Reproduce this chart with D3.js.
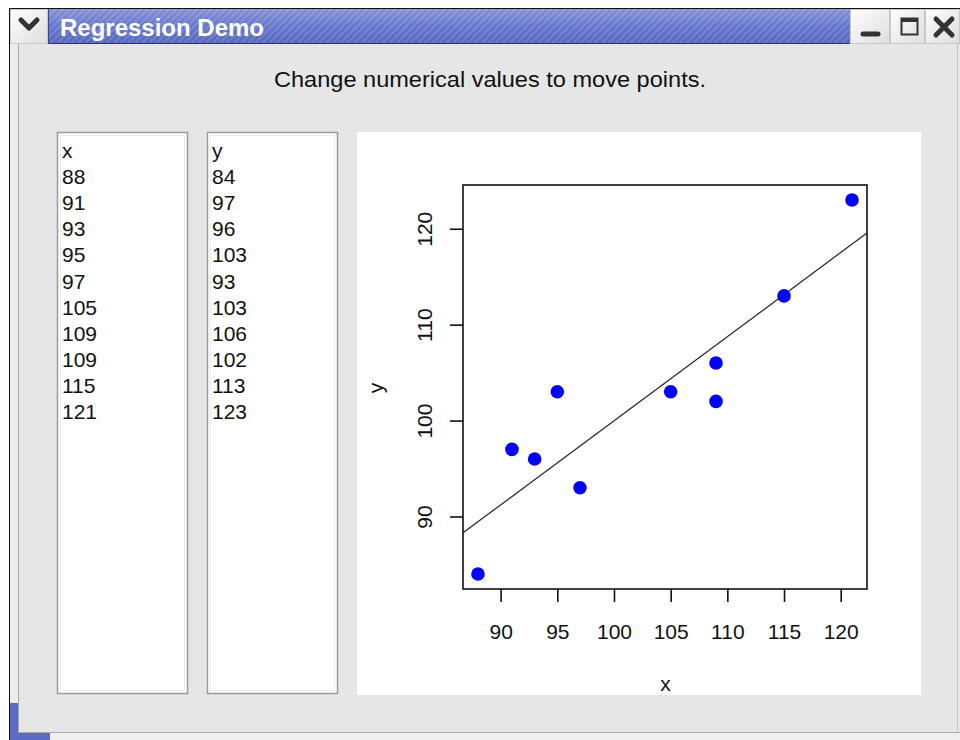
<!DOCTYPE html>
<html>
<head>
<meta charset="utf-8">
<script src="https://cdn.jsdelivr.net/npm/d3@7/dist/d3.min.js"></script>
<style>
  html, body { margin: 0; padding: 0; background: #ffffff; }
  svg { display: block; }
  text { font-family: "Liberation Sans", Arial, sans-serif; }
</style>
</head>
<body>
<svg id="chart" width="960" height="740"></svg>
<script>
// ---- data ----
const xValues = [88, 91, 93, 95, 97, 105, 109, 109, 115, 121];
const yValues = [84, 97, 96, 103, 93, 103, 106, 102, 113, 123];
const xTicks = [90, 95, 100, 105, 110, 115, 120];
const yTicks = [90, 100, 110, 120];
const windowTitle = "Regression Demo";
const subtitle = "Change numerical values to move points.";
const xName = "x";
const yName = "y";

const svg = d3.select("#chart");
const defs = svg.append("defs");

// ---- window chrome ----
const pat = defs.append("pattern").attr("id", "stripes")
  .attr("patternUnits", "userSpaceOnUse").attr("width", 5).attr("height", 5)
  .attr("patternTransform", "rotate(45)");
pat.append("rect").attr("width", 5).attr("height", 5).attr("fill", "#5e6ec8");
pat.append("rect").attr("width", 2).attr("height", 5).attr("fill", "#7383d4");

const tbGrad = defs.append("linearGradient").attr("id", "tbShade").attr("x1", 0).attr("y1", 0).attr("x2", 0).attr("y2", 1);
tbGrad.append("stop").attr("offset", "0%").attr("stop-color", "#ffffff").attr("stop-opacity", 0.25);
tbGrad.append("stop").attr("offset", "50%").attr("stop-color", "#ffffff").attr("stop-opacity", 0.05);
tbGrad.append("stop").attr("offset", "100%").attr("stop-color", "#000000").attr("stop-opacity", 0.08);

const btnGrad = defs.append("linearGradient").attr("id", "btnShade").attr("x1", 0).attr("y1", 0).attr("x2", 1).attr("y2", 1);
btnGrad.append("stop").attr("offset", "0%").attr("stop-color", "#ffffff");
btnGrad.append("stop").attr("offset", "100%").attr("stop-color", "#dcdcdc");

// body background
svg.append("rect").attr("x", 10).attr("y", 44).attr("width", 950).attr("height", 696).attr("fill", "#e6e6e6");
svg.append("rect").attr("x", 10).attr("y", 44).attr("width", 8).attr("height", 660).attr("fill", "#ececec");
svg.append("line").attr("x1", 18.5).attr("y1", 44).attr("x2", 18.5).attr("y2", 732).attr("stroke", "#a8a8a8");
svg.append("line").attr("x1", 957.5).attr("y1", 44).attr("x2", 957.5).attr("y2", 732).attr("stroke", "#c4c4c4");
svg.append("line").attr("x1", 18).attr("y1", 732.5).attr("x2", 960).attr("y2", 732.5).attr("stroke", "#a8a8a8");
svg.append("rect").attr("x", 18).attr("y", 733).attr("width", 942).attr("height", 7).attr("fill", "#f0f0f0");
svg.append("rect").attr("x", 10).attr("y", 703).attr("width", 8).attr("height", 37).attr("fill", "#5c6cc6");
svg.append("rect").attr("x", 10).attr("y", 733).attr("width", 40).attr("height", 7).attr("fill", "#5c6cc6");
svg.append("line").attr("x1", 9.5).attr("y1", 8).attr("x2", 9.5).attr("y2", 740).attr("stroke", "#111");

// title bar
svg.append("line").attr("x1", 10).attr("y1", 8.5).attr("x2", 960).attr("y2", 8.5).attr("stroke", "#111");
svg.append("rect").attr("x", 48).attr("y", 9).attr("width", 802).attr("height", 35).attr("fill", "url(#stripes)");
svg.append("rect").attr("x", 48).attr("y", 9).attr("width", 802).attr("height", 35).attr("fill", "url(#tbShade)");
svg.append("line").attr("x1", 48).attr("y1", 43.5).attr("x2", 850).attr("y2", 43.5).attr("stroke", "#2c3478");
svg.append("line").attr("x1", 48.5).attr("y1", 9).attr("x2", 48.5).attr("y2", 44).attr("stroke", "#3a4490");

// buttons
const buttons = [[10, 38], [850, 40], [890, 35], [925, 35]];
buttons.forEach(([bx, bw]) => {
  svg.append("rect").attr("x", bx).attr("y", 9).attr("width", bw).attr("height", 35).attr("fill", "url(#btnShade)");
  svg.append("rect").attr("x", bx + 0.5).attr("y", 9.5).attr("width", bw - 1).attr("height", 34)
    .attr("fill", "none").attr("stroke", "#c8c8c8");
});
// chevron
svg.append("path").attr("d", "M21,20 L29,28 L37,20").attr("fill", "none").attr("stroke", "#333").attr("stroke-width", 5)
  .attr("stroke-linecap", "round").attr("stroke-linejoin", "round");
// minimize
svg.append("line").attr("x1", 863).attr("y1", 34).attr("x2", 878).attr("y2", 34).attr("stroke", "#333")
  .attr("stroke-width", 5).attr("stroke-linecap", "round");
// maximize
svg.append("rect").attr("x", 901.5).attr("y", 18.5).attr("width", 16).attr("height", 16).attr("fill", "none").attr("stroke", "#333").attr("stroke-width", 2);
svg.append("rect").attr("x", 901).attr("y", 18).attr("width", 17).attr("height", 4).attr("fill", "#333");
// close
svg.append("path").attr("d", "M936,19 L952,35 M952,19 L936,35").attr("stroke", "#333").attr("stroke-width", 5)
  .attr("stroke-linecap", "round");

svg.append("text").attr("x", 60).attr("y", 36).attr("fill", "#ffffff").attr("font-weight", "bold")
  .attr("font-size", 23).attr("textLength", 204).attr("lengthAdjust", "spacingAndGlyphs").text(windowTitle);

// subtitle
svg.append("text").attr("x", 274).attr("y", 87).attr("fill", "#111").attr("font-size", 22)
  .attr("textLength", 432).attr("lengthAdjust", "spacingAndGlyphs").text(subtitle);

// ---- list boxes ----
function listBox(x0, header, values) {
  const g = svg.append("g");
  g.append("rect").attr("x", x0 + 0.5).attr("y", 132.5).attr("width", 130).attr("height", 561)
    .attr("fill", "#ffffff").attr("stroke", "#9a9a9a").attr("stroke-width", 1.5);
  g.append("rect").attr("x", x0 + 3.5).attr("y", 135.5).attr("width", 124).attr("height", 555)
    .attr("fill", "none").attr("stroke", "#ececec").attr("stroke-width", 1);
  const rows = [header].concat(values.map(String));
  g.selectAll("text").data(rows).join("text")
    .attr("x", x0 + 5).attr("y", (d, i) => 158 + i * 26.1)
    .attr("font-size", 21).attr("fill", "#111").text(d => d);
}
listBox(57, xName, xValues);
listBox(207, yName, yValues);

// ---- plot panel ----
svg.append("rect").attr("x", 357).attr("y", 132).attr("width", 564).attr("height", 563).attr("fill", "#ffffff");

const xExt = d3.extent(xValues), yExt = d3.extent(yValues);
const xPad = (xExt[1] - xExt[0]) * 0.04, yPad = (yExt[1] - yExt[0]) * 0.04;
const x = d3.scaleLinear().domain([xExt[0] - xPad, xExt[1] + xPad]).range([463, 867]);
const y = d3.scaleLinear().domain([yExt[0] - yPad, yExt[1] + yPad]).range([589, 185]);

defs.append("clipPath").attr("id", "plotClip").append("rect")
  .attr("x", 463).attr("y", 185).attr("width", 404).attr("height", 404);

// regression (least squares)
const mx = d3.mean(xValues), my = d3.mean(yValues);
const sxy = d3.sum(xValues, (v, i) => (v - mx) * (yValues[i] - my));
const sxx = d3.sum(xValues, v => (v - mx) * (v - mx));
const slope = sxy / sxx, intercept = my - slope * mx;
const xd = x.domain();
svg.append("line").attr("clip-path", "url(#plotClip)")
  .attr("x1", x(xd[0])).attr("y1", y(intercept + slope * xd[0]))
  .attr("x2", x(xd[1])).attr("y2", y(intercept + slope * xd[1]))
  .attr("stroke", "#222").attr("stroke-width", 1.2);

// points
svg.append("g").selectAll("circle").data(xValues).join("circle")
  .attr("cx", d => x(d)).attr("cy", (d, i) => y(yValues[i])).attr("r", 6.8).attr("fill", "#0000ff");

// box
svg.append("rect").attr("x", 463).attr("y", 185).attr("width", 404).attr("height", 404)
  .attr("fill", "none").attr("stroke", "#111").attr("stroke-width", 1.6);

// axes
const xAxis = d3.axisBottom(x).tickValues(xTicks).tickSize(13).tickPadding(22).tickSizeOuter(0);
const gx = svg.append("g").attr("transform", "translate(0,589)").call(xAxis);
gx.select(".domain").remove();
gx.selectAll("line").attr("stroke", "#111").attr("stroke-width", 1.6);
gx.selectAll("text").attr("font-size", 21).attr("fill", "#111").attr("font-family", "Liberation Sans, Arial, sans-serif");

const yAxis = d3.axisLeft(y).tickValues(yTicks).tickSize(13).tickPadding(0).tickSizeOuter(0);
const gy = svg.append("g").attr("transform", "translate(463,0)").call(yAxis);
gy.select(".domain").remove();
gy.selectAll("line").attr("stroke", "#111").attr("stroke-width", 1.6);
gy.selectAll("text").attr("font-size", 21).attr("fill", "#111").attr("font-family", "Liberation Sans, Arial, sans-serif")
  .attr("x", null).attr("dy", null)
  .attr("text-anchor", "middle")
  .attr("transform", "translate(-31,0) rotate(-90)")
  .attr("y", 0);

// axis names
svg.append("text").attr("x", 665.5).attr("y", 691).attr("text-anchor", "middle").attr("font-size", 21).attr("fill", "#111").text(xName);
svg.append("text").attr("transform", "translate(383,388) rotate(-90)").attr("text-anchor", "middle")
  .attr("font-size", 21).attr("fill", "#111").text(yName);
</script>
</body>
</html>
